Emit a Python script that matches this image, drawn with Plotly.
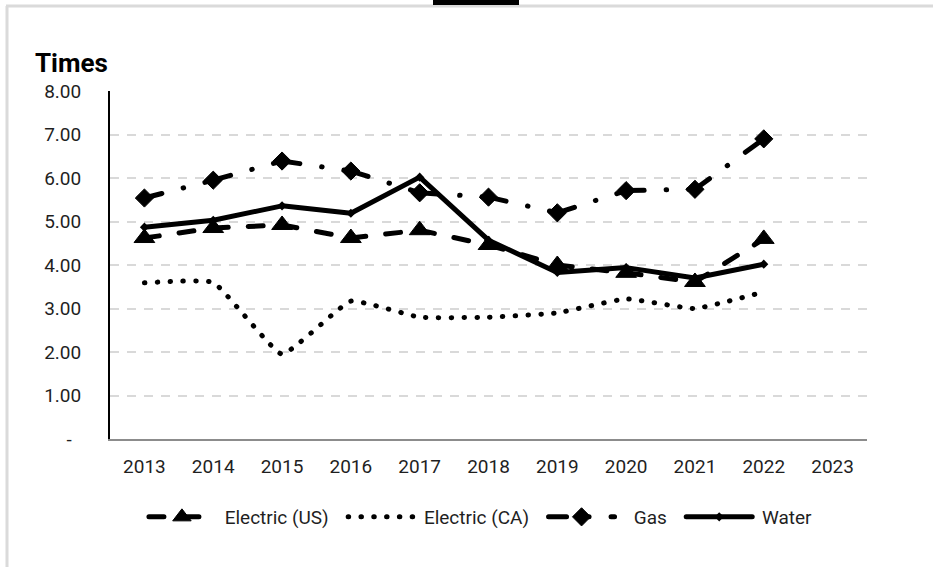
import plotly.graph_objects as go

# Turnover ratios by utility segment
years = ["2013", "2014", "2015", "2016", "2017", "2018", "2019", "2020", "2021", "2022", "2023"]
electric_us = [4.62, 4.85, 4.92, 4.62, 4.80, 4.46, 4.00, 3.82, 3.61, 4.60]
electric_ca = [3.59, 3.60, 1.95, 3.17, 2.80, 2.80, 2.90, 3.22, 3.00, 3.38]
gas = [5.54, 5.95, 6.39, 6.16, 5.66, 5.56, 5.20, 5.71, 5.74, 6.90]
water = [4.87, 5.03, 5.36, 5.19, 6.02, 4.57, 3.83, 3.94, 3.70, 4.02]
y_ticks = [0, 1, 2, 3, 4, 5, 6, 7, 8]
y_ticktext = ["-\u00a0\u00a0", "1.00", "2.00", "3.00", "4.00", "5.00", "6.00", "7.00", "8.00"]

FONT = "Roboto, Open Sans, sans-serif"
INK = "#000000"
TXT = "#1f1f1f"
NB = "\u00a0"
W, H = 933, 567
L, R, T, B = 110, 66, 91, 128
PW, PH = W - L - R, H - T - B


def px_x(p):
    return (p - L) / PW


def px_y(p):
    return (H - B - p) / PH


fig = go.Figure()


def add_series(name, values, line, marker, segmented, shape="linear", smoothing=1.0,
               lead=1, trail=2):
    xs = years[:len(values)]
    if segmented:
        # dash pattern restarts on every segment between two points
        for i in range(len(values) - 1):
            fig.add_trace(go.Scatter(
                x=xs[i:i + 2], y=values[i:i + 2], mode="lines", line=line,
                legendgroup=name, showlegend=False, hoverinfo="skip"))
    else:
        seg_line = dict(line, shape=shape)
        if shape == "spline":
            seg_line["smoothing"] = smoothing
        fig.add_trace(go.Scatter(
            x=xs, y=values, mode="lines", line=seg_line,
            legendgroup=name, showlegend=False, hoverinfo="skip"))
    if marker is not None:
        fig.add_trace(go.Scatter(
            x=xs, y=values, mode="markers", marker=marker,
            legendgroup=name, showlegend=False))
    # legend entry (padded with non-breaking spaces for entry spacing)
    fig.add_trace(go.Scatter(
        x=[None], y=[None], name=NB * lead + name + NB * trail, legendgroup=name,
        mode="lines+markers" if marker is not None else "lines",
        line=line, marker=marker if marker is not None else None))


add_series("Electric (US)", electric_us,
           dict(color=INK, width=5, dash="15px,20px"),
           dict(symbol="triangle-up", size=18, color=INK, line=dict(color=INK, width=1)),
           segmented=True)
add_series("Electric (CA)", electric_ca,
           dict(color=INK, width=5, dash="0.5px,12.3px"),
           None, segmented=False, shape="spline", smoothing=0.35)
add_series("Gas", gas,
           dict(color=INK, width=5, dash="18px,22px,0.5px,22px"),
           dict(symbol="diamond", size=14, color=INK, line=dict(color=INK, width=1)),
           segmented=True, lead=3)
add_series("Water", water,
           dict(color=INK, width=5),
           dict(symbol="diamond", size=7, color=INK),
           segmented=False, trail=0)

fig.update_layout(
    width=W, height=H,
    margin=dict(l=L, r=R, t=T, b=B),
    paper_bgcolor="white", plot_bgcolor="white",
    font=dict(family=FONT, size=19, color=TXT),
    showlegend=True,
    legend=dict(orientation="h", x=0.49, xanchor="center", y=px_y(517), yanchor="middle",
                font=dict(family=FONT, size=19, color=TXT),
                itemwidth=66, bgcolor="rgba(0,0,0,0)"),
    xaxis=dict(type="category", categoryorder="array", categoryarray=years,
               range=[-0.5, len(years) - 0.5], showgrid=False, zeroline=False,
               showline=True, linecolor="#8c8c8c", linewidth=2, ticks="",
               ticklabelstandoff=9, fixedrange=True),
    yaxis=dict(range=[0, 8], tickvals=y_ticks, ticktext=y_ticktext,
               showgrid=True, gridcolor="#d9d9d9", gridwidth=2, griddash="9px,8px",
               zeroline=False, showline=True, linecolor=INK, linewidth=2,
               ticks="", ticklabelstandoff=23, fixedrange=True),
    annotations=[dict(text="<b>Times</b>", xref="paper", yref="paper",
                      x=px_x(33), y=px_y(63), xanchor="left", yanchor="middle",
                      showarrow=False, font=dict(family=FONT, size=26, color=INK))],
    shapes=[
        dict(type="line", xref="paper", yref="paper", x0=px_x(6), x1=px_x(940),
             y0=px_y(6), y1=px_y(6), line=dict(color="#dadada", width=3)),
        dict(type="line", xref="paper", yref="paper", x0=px_x(7), x1=px_x(7),
             y0=px_y(6), y1=px_y(575), line=dict(color="#dadada", width=3)),
        dict(type="rect", xref="paper", yref="paper", x0=px_x(433), x1=px_x(519),
             y0=px_y(5), y1=px_y(-2), fillcolor="black", line=dict(width=0)),
    ],
)

# rounded caps and joins on the series strokes
post = """
var gd = document.getElementById('{plot_id}');
function roundCaps(){
  gd.querySelectorAll('path.js-line').forEach(function(p){
    p.style.strokeLinecap = 'round';
    p.style.strokeLinejoin = 'round';
  });
}
roundCaps();
gd.on('plotly_afterplot', roundCaps);
"""

fig.write_html("out.html", post_script=post, config={"displayModeBar": False})
